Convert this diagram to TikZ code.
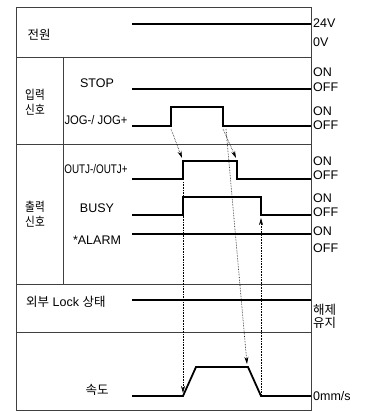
\documentclass[tikz,border=0pt]{standalone}
\usepackage{fontspec}
\setmainfont{Liberation Sans}
\newfontfamily\kr{Noto Sans CJK KR}
\usetikzlibrary{arrows.meta}

\begin{document}
\begin{tikzpicture}[x=1pt,y=-1pt,
        frame/.style={draw=black!75,line width=0.6pt},
        sig/.style={line width=1.8pt,line join=miter},
        lvl/.style={anchor=west,inner sep=0pt,font=\fontsize{12.5}{14}\selectfont},
        lbl/.style={inner sep=0pt,align=center,font=\fontsize{12.5}{15}\selectfont},
        dep/.style={densely dotted,line width=0.6pt,-{Stealth[length=2.5mm,width=1.4mm]}},
    ]
    \useasboundingbox (0,0) rectangle (370,412);
    % Rahmen
    \draw[frame] (16,7) rectangle (311,410);
    \draw[frame] (16,57) -- (311,57);
    \draw[frame] (16,144) -- (311,144);
    \draw[frame] (16,284) -- (311,284);
    \draw[frame] (16,332) -- (311,332);
    \draw[frame] (63,57) -- (63,284);
    % Gruppen
    \node[lbl] (power) at (39,35) {\kr 전원};
    \node[lbl] (input) at (35,102) {\scalebox{0.85}[1]{\kr 입력}\\\scalebox{0.85}[1]{\kr 신호}};
    \node[lbl] (output) at (35,214) {\scalebox{0.85}[1]{\kr 출력}\\\scalebox{0.85}[1]{\kr 신호}};
    % Signalnamen
    \node[lbl] (stop) at (97,83) {STOP};
    \node[lbl] (jog) at (96,120) {\scalebox{0.9}[1]{JOG-/ JOG+}};
    \node[lbl] (outj) at (96,169) {\scalebox{0.79}[1]{OUTJ-/OUTJ+}};
    \node[lbl] (busy) at (97,208) {BUSY};
    \node[lbl] (alarm) at (97,240) {*ALARM};
    \node[lbl,anchor=west] (lock) at (26,302) {{\kr 외부} Lock {\kr 상태}};
    \node[lbl] (speed) at (97,390) {\kr 속도};
    % Pegel
    \node[lvl] (v24) at (313,23) {24V};
    \node[lvl] (v0) at (313,42.5) {0V};
    \node[lvl] (stopon) at (313,72) {ON};
    \node[lvl] (stopoff) at (313,87.5) {OFF};
    \node[lvl] (jogon) at (313,111) {ON};
    \node[lvl] (jogoff) at (313,125) {OFF};
    \node[lvl] (outjon) at (313,161.5) {ON};
    \node[lvl] (outjoff) at (313,175.5) {OFF};
    \node[lvl] (busyon) at (313,198) {ON};
    \node[lvl] (busyoff) at (313,212) {OFF};
    \node[lvl] (alarmon) at (313,231.5) {ON};
    \node[lvl] (alarmoff) at (313,248) {OFF};
    \node[lvl] (unlock) at (313,309.5) {\kr 해제};
    \node[lvl] (hold) at (313,323) {\kr 유지};
    \node[lvl] (zero) at (313,396) {0mm/s};
    % Signale
    \draw[sig] (132,24) -- (311,24);
    \draw[sig] (132,89) -- (311,89);
    \draw[sig] (132,126) -- (171,126) -- (171,107) -- (223,107) -- (223,126) -- (311,126);
    \draw[sig] (132,179) -- (183,179) -- (183,161) -- (237,161) -- (237,179) -- (311,179);
    \draw[sig] (132,215) -- (183,215) -- (183,197) -- (261,197) -- (261,215) -- (311,215);
    \draw[sig] (132,234) -- (311,234);
    \draw[sig] (132,300) -- (311,300);
    \draw[sig] (132,396) -- (183,396) -- (196,367) -- (248,367) -- (261,396) -- (311,396);
    % Abhaengigkeiten
    \coordinate (jogup) at (171,129);
    \coordinate (jogdn) at (223,129);
    \coordinate (jogdn2) at (226,129);
    \coordinate (outjup) at (182,158);
    \coordinate (outjdn) at (236,158);
    \coordinate (outjlo) at (183,182);
    \coordinate (spdup) at (183,393);
    \coordinate (spddn) at (247,364);
    \coordinate (spdend) at (261,396);
    \coordinate (busydn) at (261,218);
    \draw[dep] (jogup) -- (outjup);
    \draw[dep] (jogdn) -- (outjdn);
    \draw[dep] (jogdn2) -- (spddn);
    \draw[dep] (outjlo) -- (spdup);
    \draw[dep] (spdend) -- (busydn);
\end{tikzpicture}
\end{document}
